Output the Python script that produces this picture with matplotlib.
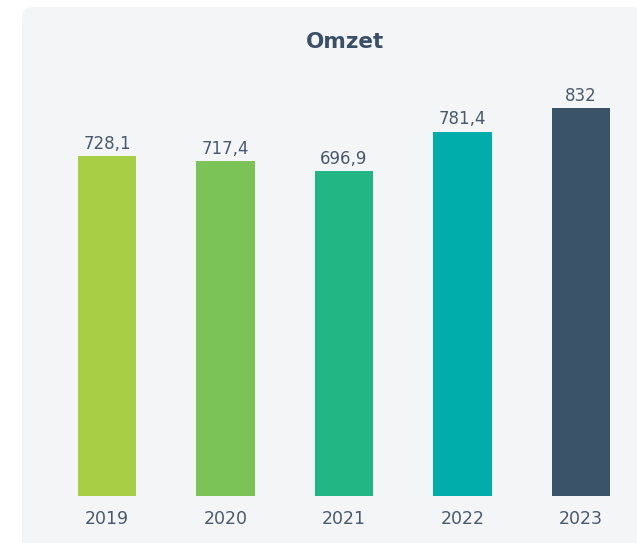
import matplotlib
matplotlib.use("Agg")
import matplotlib.pyplot as plt
from matplotlib.patches import FancyBboxPatch

years = ["2019", "2020", "2021", "2022", "2023"]
omzet = [728.1, 717.4, 696.9, 781.4, 832]
labels = ["728,1", "717,4", "696,9", "781,4", "832"]
colors = ["#a8ce45", "#7bc257", "#22b684", "#00adab", "#3a5368"]

W, H = 637, 543
TEXT = "#48596d"
FONT = "DejaVu Sans"

fig = plt.figure(figsize=(W / 100, H / 100), dpi=100)
fig.patch.set_facecolor("white")

# rounded card behind the chart
card = FancyBboxPatch((22 / W, -0.05), 1.2, (H - 7) / H + 0.05,
                      boxstyle="round,pad=0,rounding_size=0.02",
                      transform=fig.transFigure, facecolor="#f4f5f7",
                      edgecolor="none", zorder=-5)
fig.patches.append(card)

ax = fig.add_axes([22 / W, (H - 496) / H, (W - 22) / W, (496 - 8) / H])
ax.patch.set_alpha(0)
ax.set_zorder(2)

x = range(len(years))
ax.bar(x, omzet, width=0.49, color=colors, zorder=2)
for i, v in enumerate(omzet):
    ax.text(i, v + 7, labels[i], ha="center", va="bottom",
            fontsize=12, color=TEXT, family=FONT)

px = 118.5
ax.set_xlim((22 - 107) / px, (W - 107) / px)
ax.set_ylim(0, (496 - 8) / (388 / 832))

ax.set_xticks(list(x))
ax.set_xticklabels(years, fontsize=12.5, color=TEXT, family=FONT)
ax.tick_params(axis="x", length=0, pad=10)
ax.set_yticks([])
for s in ax.spines.values():
    s.set_visible(False)

fig.text(345 / W, 1 - 42 / H, "Omzet", ha="center", va="center",
         fontsize=15.5, fontweight="bold", color="#3b5068", family=FONT)

fig.savefig("out.png", dpi=100)
